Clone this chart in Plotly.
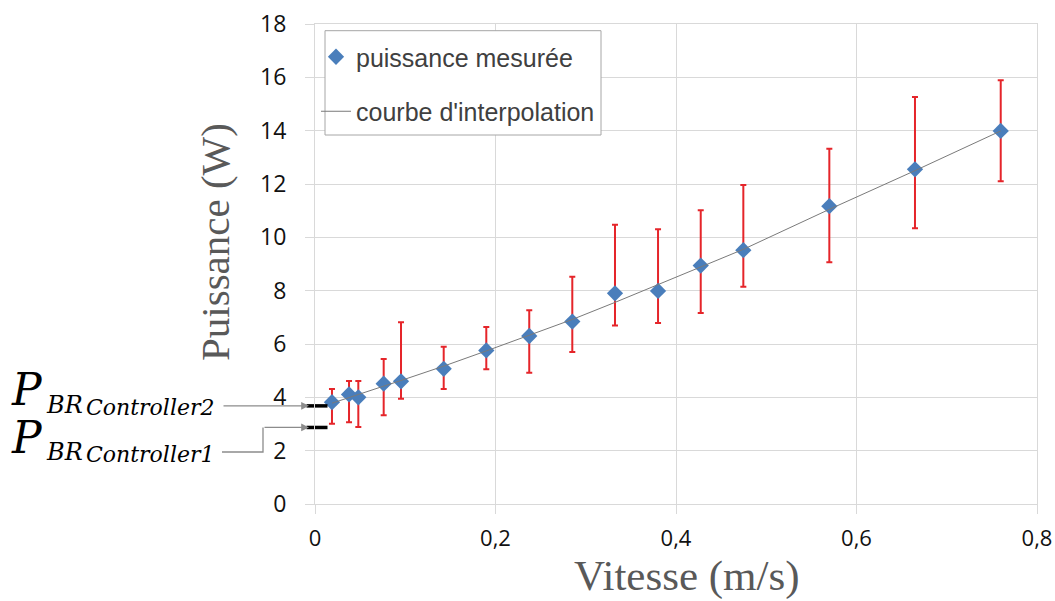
import plotly.graph_objects as go

# ---------------- data ----------------
vitesse = [0.0188, 0.0377, 0.0480, 0.0761, 0.0953, 0.1426, 0.1898, 0.2374,
           0.2851, 0.3324, 0.3801, 0.4274, 0.4746, 0.5699, 0.6648, 0.7598]
puissance = [3.82, 4.11, 4.00, 4.51, 4.60, 5.07, 5.76, 6.30,
             6.84, 7.90, 7.99, 8.94, 9.52, 11.17, 12.55, 13.99]
puissance_haut = [4.31, 4.61, 4.61, 5.44, 6.82, 5.90, 6.64, 7.27,
                  8.52, 10.47, 10.30, 11.02, 11.96, 13.32, 15.26, 15.89]
puissance_bas = [3.01, 3.07, 2.89, 3.33, 3.95, 4.31, 5.05, 4.92,
                 5.70, 6.69, 6.79, 7.16, 8.15, 9.07, 10.34, 12.10]
interp_puissance = [3.78, 4.00, 4.11, 4.42, 4.63, 5.17, 5.74, 6.33,
                    6.92, 7.56, 8.22, 8.88, 9.55, 11.05, 12.50, 13.99]
p_br = [3.68, 2.87]                      # Controller2, Controller1
p_br_names = ["Controller2", "Controller1"]
x_ticks = [0, 0.2, 0.4, 0.6, 0.8]
y_ticks = [0, 2, 4, 6, 8, 10, 12, 14, 16, 18]

# ---------------- layout geometry (reference pixels) ----------------
W, H = 1055, 601
L, R, T, B = 315, 1037, 24, 504
Y_MAX = 18


def px(x):
    return (x - L) / (R - L)


def py(y):
    return (B - y) / (B - T)


def py_data(y):
    return (B - y) / (B - T) * Y_MAX


err_plus = [h - p for h, p in zip(puissance_haut, puissance)]
err_minus = [p - b for p, b in zip(puissance, puissance_bas)]

GRID = "#d9d9d9"
fig = go.Figure()

# error bars (under the markers)
fig.add_trace(go.Scatter(
    x=vitesse, y=puissance, mode="markers",
    marker=dict(size=12, color="rgba(0,0,0,0)"),
    error_y=dict(type="data", symmetric=False, array=err_plus,
                 arrayminus=err_minus, color="#e5252a", thickness=2, width=3),
    showlegend=False, hoverinfo="skip"))

fig.add_trace(go.Scatter(
    x=vitesse, y=puissance, mode="markers", name="puissance mesurée",
    marker=dict(symbol="diamond", size=12.5, color="#4a7ebb"),
    legendgroup="a", legendrank=1))

fig.add_trace(go.Scatter(
    x=vitesse, y=interp_puissance, mode="lines", name="courbe d'interpolation",
    line=dict(color="#7a7a7a", width=1),
    legendgroup="b", legendrank=2))

# black dashes on the axis at P_BR values
dash_x = (317 - L) / (R - L) * 0.8
fig.add_trace(go.Scatter(
    x=[dash_x] * len(p_br), y=p_br, mode="markers",
    marker=dict(symbol="line-ew", size=15, color="black",
                line=dict(color="black", width=3.5)),
    cliponaxis=False, showlegend=False, hoverinfo="skip"))

ARROW = "#8c8c8c"
annotations = [
    dict(x=px(309), xref="paper", y=p_br[0], yref="y", ax=-87, ay=0,
         showarrow=True, arrowhead=2, arrowsize=1.2, arrowwidth=1.3,
         arrowcolor=ARROW, text=""),
    dict(x=px(309), xref="paper", y=p_br[1], yref="y", ax=-46, ay=0,
         showarrow=True, arrowhead=2, arrowsize=1.2, arrowwidth=1.3,
         arrowcolor=ARROW, text=""),
    dict(x=px(215), y=py(242), xref="paper", yref="paper", text="Puissance (W)",
         textangle=-90, showarrow=False, xanchor="center", yanchor="middle",
         font=dict(family="Liberation Serif, Times New Roman, serif", size=41,
                   color="#595959")),
    dict(x=px(687), y=py(576), xref="paper", yref="paper", text="Vitesse (m/s)",
         showarrow=False, xanchor="center", yanchor="middle",
         font=dict(family="Liberation Serif, Times New Roman, serif", size=43,
                   color="#595959")),
]

SERIF = "DejaVu Serif, serif"
label_baselines = [(405, 413, 415), (453, 460, 462)]
for name, (b1, b2, b3) in zip(p_br_names, label_baselines):
    for txt, left, base, size in (("P", 10, b1, 44), ("BR", 45, b2, 24),
                                  (name, 85, b3, 22)):
        annotations.append(dict(
            x=px(left), y=py(base - 0.346 * size), xref="paper", yref="paper",
            text="<i>" + txt + "</i>", showarrow=False, xanchor="left",
            yanchor="middle", borderpad=0,
            font=dict(family=SERIF, size=size, color="black")))

shapes = [
    dict(type="rect", xref="paper", yref="paper", x0=px(325), x1=px(601),
         y0=py(135), y1=py(30.7), line=dict(color="#a6a6a6", width=1),
         fillcolor="white", layer="above"),
    dict(type="path", xref="paper", yref="y",
         path=f"M {px(222)} {py_data(452)} L {px(263)} {py_data(452)} "
              f"L {px(263)} {p_br[1]}",
         line=dict(color=ARROW, width=1.3)),
]

fig.update_layout(
    width=W, height=H,
    margin=dict(l=L, r=W - R, t=T, b=H - B, autoexpand=False),
    paper_bgcolor="white", plot_bgcolor="white",
    separators=",.",
    showlegend=True,
    legend=dict(x=px(316), y=py(34), xanchor="left", yanchor="top",
                bgcolor="rgba(0,0,0,0)", borderwidth=0, tracegroupgap=19,
                font=dict(family="Liberation Sans, Arial, sans-serif", size=25,
                          color="#404040")),
    xaxis=dict(range=[0, 0.8], tickvals=x_ticks, showgrid=True, gridcolor=GRID,
               gridwidth=1, zeroline=False, showline=True, linecolor=GRID,
               mirror=True, ticks="outside", ticklen=9, tickcolor=GRID,
               tickfont=dict(family="Open Sans, sans-serif", size=22,
                             color="#111111"),
               ticklabelstandoff=6, ticklabeloverflow="allow"),
    yaxis=dict(range=[0, Y_MAX], tickvals=y_ticks, showgrid=True, gridcolor=GRID,
               gridwidth=1, zeroline=False, showline=True, linecolor=GRID,
               mirror=True, ticks="outside", ticklen=9, tickcolor=GRID,
               tickfont=dict(family="Open Sans, sans-serif", size=23,
                             color="#111111"),
               ticklabelstandoff=14, ticklabeloverflow="allow"),
    annotations=annotations,
    shapes=shapes,
)

fig.write_html(
    "out.html",
    config={"displayModeBar": False},
    post_script="document.body.style.margin='0';"
                "document.body.style.overflow='hidden';")
